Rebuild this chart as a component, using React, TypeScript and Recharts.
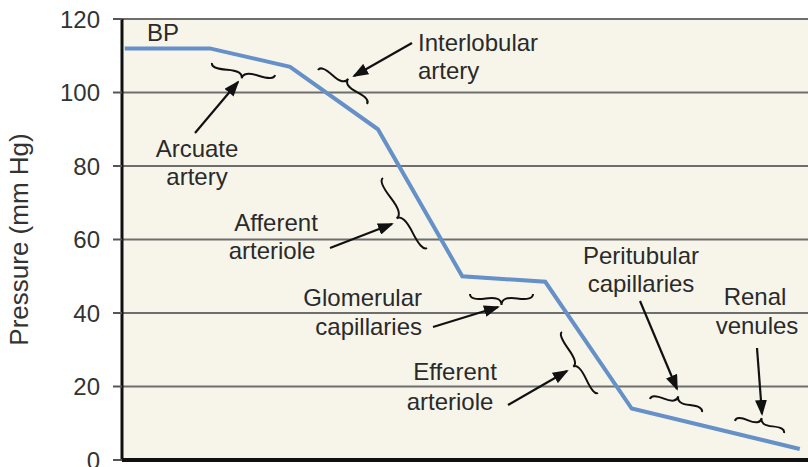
import { LineChart, Line, XAxis, YAxis, CartesianGrid } from 'recharts'

// ---------------------------------------------------------------------------
// Renal vascular pressure profile — pressure along the nephron vasculature
// ---------------------------------------------------------------------------

const distance = [0.4, 12.8, 24.5, 37.3, 49.6, 61.7, 74.3, 98.8]
const pressure = [112, 112, 107, 90, 50, 48.5, 14, 3]
const yTicks = [0, 20, 40, 60, 80, 100, 120]

const data = distance.map((d, i) => ({ d, p: pressure[i] }))

const FONT = '"Liberation Sans", Arial, Helvetica, sans-serif'
const TEXT = '#2a2a2a'

function bracePath(x1: number, y1: number, x2: number, y2: number, tx: number, ty: number, q = 0.6) {
  let dx = x1 - x2
  let dy = y1 - y2
  const len = Math.hypot(dx, dy)
  dx /= len
  dy /= len
  const mx = (x1 + x2) / 2
  const my = (y1 + y2) / 2
  const nx = dy
  const ny = -dx
  const w = (tx - mx) * nx + (ty - my) * ny
  const qx1 = x1 + q * w * nx
  const qy1 = y1 + q * w * ny
  const qx2 = x1 - 0.25 * len * dx + (1 - q) * w * nx
  const qy2 = y1 - 0.25 * len * dy + (1 - q) * w * ny
  const px = mx + w * nx
  const py = my + w * ny
  const qx3 = x2 + q * w * nx
  const qy3 = y2 + q * w * ny
  const qx4 = x1 - 0.75 * len * dx + (1 - q) * w * nx
  const qy4 = y1 - 0.75 * len * dy + (1 - q) * w * ny
  return `M${x1},${y1} Q${qx1},${qy1} ${qx2},${qy2} T${px},${py} M${x2},${y2} Q${qx3},${qy3} ${qx4},${qy4} T${px},${py}`
}

// annotation callouts: text lines, brace, arrow (pixel layout of the figure)
const braces: number[][] = [
  [212, 63, 275, 75, 245, 79],
  [318, 70, 367, 104, 350, 80],
  [383, 178, 427, 248, 397, 219],
  [470, 294, 533, 294, 502, 305],
  [562, 332, 598, 393, 574, 368],
  [650, 399, 702, 412, 677, 396],
  [735, 421, 784, 433, 762, 418],
]

const arrows: number[][] = [
  [195, 133, 238, 82],
  [412, 43, 354, 76],
  [330, 248, 392, 224],
  [433, 327, 498, 307],
  [508, 405, 567, 371],
  [640, 301, 677, 389],
  [757, 348, 762, 414],
]

const labels: { x: number; y: number; text: string; anchor: 'start' | 'middle' | 'end' }[] = [
  { x: 147, y: 41, text: 'BP', anchor: 'start' },
  { x: 197, y: 157, text: 'Arcuate', anchor: 'middle' },
  { x: 197, y: 185, text: 'artery', anchor: 'middle' },
  { x: 418, y: 51, text: 'Interlobular', anchor: 'start' },
  { x: 418, y: 79, text: 'artery', anchor: 'start' },
  { x: 276, y: 231, text: 'Afferent', anchor: 'middle' },
  { x: 272, y: 259, text: 'arteriole', anchor: 'middle' },
  { x: 422, y: 306, text: 'Glomerular', anchor: 'end' },
  { x: 422, y: 335, text: 'capillaries', anchor: 'end' },
  { x: 455, y: 380, text: 'Efferent', anchor: 'middle' },
  { x: 450, y: 410, text: 'arteriole', anchor: 'middle' },
  { x: 641, y: 264, text: 'Peritubular', anchor: 'middle' },
  { x: 641, y: 292, text: 'capillaries', anchor: 'middle' },
  { x: 755, y: 305, text: 'Renal', anchor: 'middle' },
  { x: 757, y: 334, text: 'venules', anchor: 'middle' },
]

function Annotations() {
  return (
    <svg
      width={808}
      height={467}
      style={{ position: 'absolute', left: 0, top: 0, pointerEvents: 'none' }}
    >
      <defs>
        <marker
          id="head"
          markerUnits="userSpaceOnUse"
          markerWidth={16}
          markerHeight={12}
          refX={14}
          refY={6}
          orient="auto"
        >
          <path d="M0,0 L16,6 L0,12 Z" fill="#111" />
        </marker>
      </defs>
      {braces.map((b, i) => (
        <path
          key={`b-${i}`}
          d={bracePath(b[0], b[1], b[2], b[3], b[4], b[5])}
          fill="none"
          stroke="#111"
          strokeWidth={2}
        />
      ))}
      {arrows.map((a, i) => (
        <line
          key={`a-${i}`}
          x1={a[0]}
          y1={a[1]}
          x2={a[2]}
          y2={a[3]}
          stroke="#111"
          strokeWidth={2.2}
          markerEnd="url(#head)"
        />
      ))}
      {labels.map((l, i) => (
        <text
          key={`t-${i}`}
          x={l.x}
          y={l.y}
          textAnchor={l.anchor}
          fontFamily={FONT}
          fontSize={24}
          fill={TEXT}
        >
          {l.text}
        </text>
      ))}
    </svg>
  )
}

export default function App() {
  return (
    <div
      style={{
        position: 'absolute',
        left: 0,
        top: 0,
        width: 808,
        height: 467,
        background: '#ffffff',
        fontFamily: FONT,
      }}
    >
      <LineChart width={808} height={467} data={data} margin={{ top: 19, right: 0, bottom: 0, left: 0 }}>
        <CartesianGrid vertical={false} stroke="#6e6e6e" strokeWidth={2} fill="#f7f5ea" fillOpacity={1} />
        <XAxis
          dataKey="d"
          type="number"
          domain={[0, 100]}
          tick={false}
          tickLine={false}
          height={7}
          axisLine={{ stroke: '#111', strokeWidth: 4 }}
        />
        <YAxis
          domain={[0, 120]}
          ticks={yTicks}
          interval={0}
          width={122}
          tickSize={9}
          tickMargin={13}
          tick={{ fontSize: 24, fill: '#333', fontFamily: FONT }}
          tickLine={{ stroke: '#555', strokeWidth: 2 }}
          axisLine={{ stroke: '#111', strokeWidth: 3 }}
          label={{
            value: 'Pressure (mm Hg)',
            angle: -90,
            position: 'insideLeft',
            offset: 19,
            style: { textAnchor: 'middle', fontSize: 26, fill: '#333', fontFamily: FONT },
          }}
        />
        <Line
          type="linear"
          dataKey="p"
          stroke="#6590c8"
          strokeWidth={4}
          dot={false}
          isAnimationActive={false}
        />
      </LineChart>
      <Annotations />
    </div>
  )
}
